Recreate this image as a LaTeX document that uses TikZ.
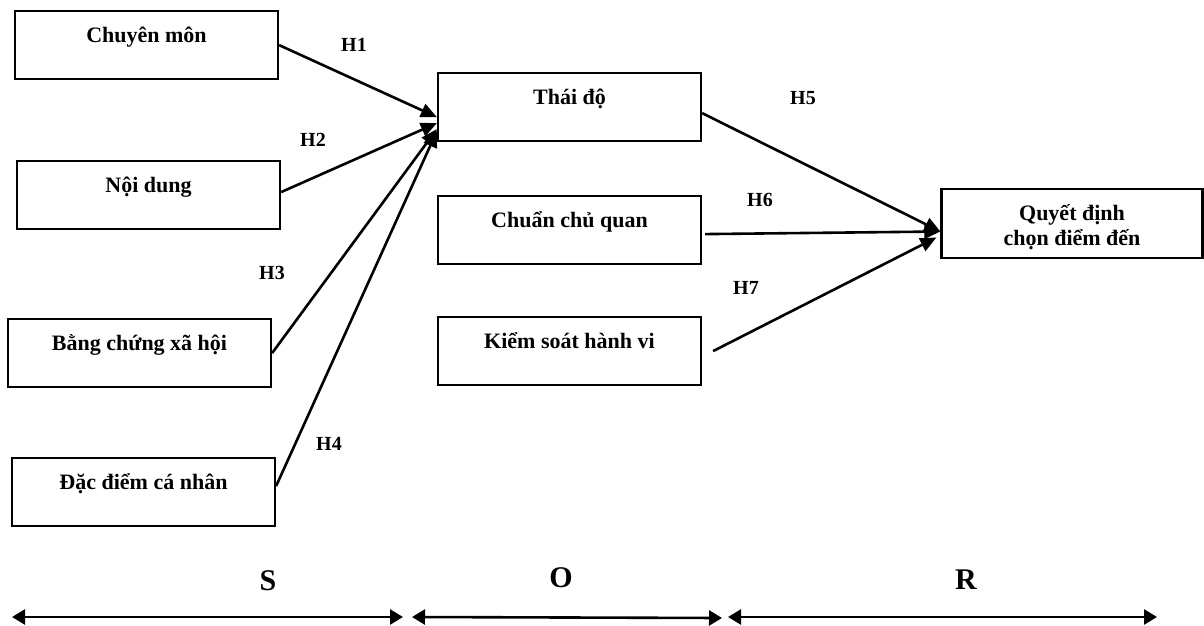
\documentclass[tikz,border=0pt]{standalone}
\usepackage{fontspec}
\setmainfont{Liberation Serif}
\usetikzlibrary{arrows.meta}
\begin{document}
\begin{tikzpicture}[x=0.5pt,y=-0.5pt,
  box/.style={draw, line width=1.1pt, inner sep=0pt, minimum width=131.5pt,
    text height=15.5pt, text depth=18.5pt, anchor=north,
    font=\bfseries\fontsize{11}{13}\selectfont},
  qbox/.style={draw, line width=1.1pt, inner sep=0pt, minimum width=130.5pt,
    minimum height=34.5pt},
  qtext/.style={align=center, inner sep=0pt, yshift=-2pt,
    font=\bfseries\fontsize{11}{12.5}\selectfont},
  hyp/.style={font=\bfseries\fontsize{10}{12}\selectfont, inner sep=0pt},
  conn/.style={line width=1.3pt, -{Triangle[length=8pt,width=7pt]}},
  span/.style={line width=1.3pt,
    {Triangle[length=6.5pt,width=7.5pt]}-{Triangle[length=6.5pt,width=7.5pt]}},
  sor/.style={font=\bfseries\fontsize{15}{18}\selectfont, inner sep=0pt}]
\useasboundingbox (0,0) rectangle (1204,626);

% boxes
\node[box] (A) at (146.5,10) {Chuyên môn};
\node[box] (B) at (148.5,160) {Nội dung};
\node[box] (C) at (139.5,318) {Bằng chứng xã hội};
\node[box] (D) at (143.5,457) {Đặc điểm cá nhân};
\node[box] (T) at (569.5,72) {Thái độ};
\node[box] (CQ) at (569.5,195) {Chuẩn chủ quan};
\node[box] (KS) at (569.5,316) {Kiểm soát hành vi};
\node[qbox, label={[qtext]center:Quyết định\\chọn điểm đến}] (Q) at (1072,223.5) {};

% connectors
\draw[conn] (A.east) -- ([yshift=-5pt]T.west);
\draw[conn] ([yshift=1.5pt]B.east) -- ([yshift=-8pt]T.west);
\draw[conn] (C.east) -- ([yshift=-11pt]T.west);
\draw[conn] ([yshift=3pt]D.east) -- ([yshift=-12pt]T.west);
\draw[conn] ([yshift=-3pt]T.east) -- ([yshift=-4pt]Q.west);
\draw[conn] ([xshift=1.5pt,yshift=-2pt]CQ.east) -- ([yshift=-4pt]Q.west);
\draw[conn] ([xshift=5.5pt]KS.east) -- ([xshift=-2pt,yshift=-7pt]Q.west);

% hypothesis labels
\node[hyp] (h1) at (354,45) {H1};
\node[hyp] (h2) at (313,140) {H2};
\node[hyp] (h3) at (272,272.5) {H3};
\node[hyp] (h4) at (329,444) {H4};
\node[hyp] (h5) at (803,98) {H5};
\node[hyp] (h6) at (760,199.5) {H6};
\node[hyp] (h7) at (746,288) {H7};

% S-O-R spans
\coordinate (s1) at (12,617);
\coordinate (s2) at (403,617);
\coordinate (o1) at (412,617);
\coordinate (o2) at (722,618);
\coordinate (r1) at (728,617);
\coordinate (r2) at (1157,617);
\draw[span] (s1) -- (s2);
\draw[span] (o1) -- (o2);
\draw[span] (r1) -- (r2);
\node[sor] (S) at (268,581) {S};
\node[sor] (O) at (561,578) {O};
\node[sor] (R) at (966,580) {R};
\end{tikzpicture}
\end{document}
